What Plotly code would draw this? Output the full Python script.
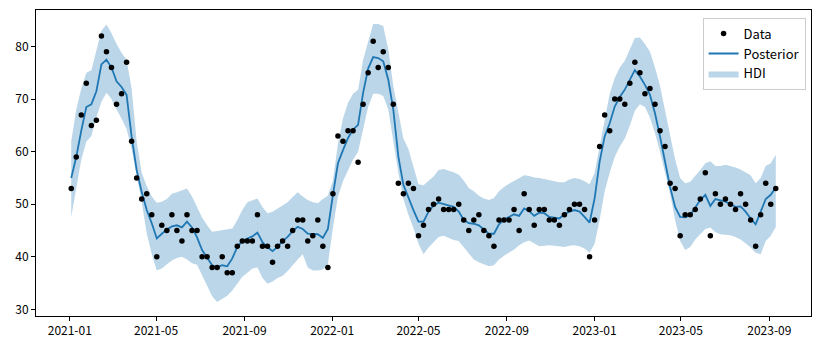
import pandas as pd
import plotly.graph_objects as go

dates = pd.date_range("2021-01-03", periods=141, freq="W")

observed = [53, 59, 67, 73, 65, 66, 82, 79, 76, 69, 71, 77, 62, 55, 51, 52, 48, 40, 46, 45,
            48, 45, 43, 48, 45, 45, 40, 40, 38, 38, 40, 37, 37, 42, 43, 43, 43, 48, 42, 42,
            39, 42, 43, 42, 45, 47, 47, 43, 44, 47, 42, 38, 52, 63, 62, 64, 64, 58, 69, 75,
            81, 76, 79, 76, 69, 54, 52, 54, 53, 44, 46, 49, 50, 51, 49, 49, 49, 50, 47, 45,
            47, 48, 45, 44, 42, 47, 47, 47, 49, 45, 52, 49, 46, 49, 49, 47, 47, 46, 48, 49,
            50, 50, 49, 40, 47, 61, 67, 64, 70, 70, 69, 73, 77, 75, 71, 72, 69, 64, 61, 54,
            53, 44, 48, 48, 49, 51, 56, 44, 52, 50, 51, 50, 49, 52, 50, 47, 42, 48, 54, 50,
            53]

posterior = [55, 59, 64, 68.5, 69, 71.5, 76.6, 77.5, 76, 73.4, 72.3, 70.8, 62.9, 56.5, 52.4, 48.9, 46.4, 43.5, 44.4, 45.2,
             45.8, 46, 45.6, 46.7, 45.6, 43.7, 41.3, 39.9, 38.4, 38, 38.4, 38.2, 39.7, 41.9, 43, 43.5, 43.9, 44.6, 42.8, 41.8,
             41.1, 41.9, 43, 43.8, 44.9, 45.7, 45.3, 44.4, 44.3, 44.3, 43.6, 45.3, 51.8, 57.8, 60.3, 62.6, 64.2, 65.1, 71.2, 75.8,
             78, 77.8, 77.2, 73.7, 68, 59.1, 53.7, 51.1, 48.9, 46.7, 46.7, 48.6, 49.8, 50.3, 50, 49.8, 49.5, 48.6, 47, 46.4,
             46.3, 46, 45.2, 44.4, 44.4, 46.2, 47.1, 47.6, 48.1, 47.8, 49.2, 48.7, 47.8, 48.4, 48.3, 47.6, 47.5, 47.3, 48.1, 48.6,
             48.9, 48.6, 47.6, 46.5, 51.1, 58.1, 62.9, 65.4, 68.6, 70.4, 71.8, 73.7, 75.5, 74.3, 72.7, 70.8, 67.3, 62.9, 58.4, 53.3,
             49.5, 47.6, 47.5, 47.9, 49.4, 50.8, 51.8, 49.7, 51, 50.8, 50.5, 50, 49.5, 49.6, 48.6, 47.3, 46.2, 48.6, 51, 51.8,
             53.2]

hdi_upper = [62, 68, 72, 75, 75.5, 79, 83, 84.2, 82.5, 80.5, 78.8, 77.5, 72, 62, 56, 53.5, 51.5, 50.3, 50.5, 51,
             52, 52.3, 52.6, 53, 51.5, 49.5, 47.5, 46, 44.8, 44.9, 45.1, 45.2, 45.4, 47, 48.9, 50.4, 50.8, 51.1, 49.5, 48.3,
             48.6, 49.2, 49.7, 50.4, 51.4, 52.3, 51.5, 50.8, 50.4, 50.2, 51, 51.6, 54.5, 61.5, 66.3, 69.3, 71, 71.8, 77.5, 81,
             84.3, 84.3, 83.9, 79.5, 72.5, 67.5, 62.5, 60.5, 57.3, 53.8, 53.6, 54.5, 55.3, 56.5, 56.7, 56.4, 56.1, 55.6, 54.5, 53.1,
             52.5, 51.6, 51.1, 50.8, 51.2, 52.5, 53.3, 53.9, 54.4, 55, 55.5, 55.4, 55.1, 55, 54.8, 54.6, 54.4, 54.2, 54.2, 54.7,
             55, 54.8, 54.4, 53.8, 56, 61, 66.5, 71, 74, 76, 77.3, 79.5, 81.6, 81.7, 80.5, 79, 76, 72.5, 68, 63.5,
             58.5, 55, 54, 54.3, 55.3, 56.5, 57.8, 58.2, 57.3, 57.3, 57.5, 57.3, 57, 56.6, 56, 55.5, 54, 55, 57.3, 57.8,
             59.4]

hdi_lower = [47.6, 53.3, 58.5, 61.9, 63, 66.5, 69.5, 71.2, 70, 68, 66.3, 64.3, 60.5, 55.5, 50.5, 44.5, 40.5, 37.4, 37.8, 38.6,
             39.3, 39.8, 40, 39.5, 38.8, 38.5, 36.5, 34.5, 32.5, 31.4, 32, 32.6, 33.6, 35, 36.2, 37, 37.8, 38, 36, 34.9,
             35.3, 36, 36.4, 37.3, 38.5, 39.5, 40.5, 38, 37.4, 37.4, 37.6, 38.6, 45.5, 51.5, 54.4, 56.5, 58.5, 60, 64, 68.5,
             71, 71, 70.6, 68, 62, 56, 51, 48, 45.5, 42.5, 40.5, 41.8, 42.8, 43.8, 44, 43.6, 43.2, 43, 41.8, 40.5,
             39.5, 39, 38.6, 38.2, 38.4, 39.5, 40.2, 40.8, 41.4, 42.2, 42.8, 43.1, 42.6, 42, 42.1, 42.2, 42.1, 42, 41.9, 42.1,
             42.2, 42, 41.6, 40.8, 42.5, 47, 52.5, 56, 59, 61, 62.5, 65, 67.8, 69, 68.5, 66.5, 63.5, 60, 56, 52,
             47, 43, 41.3, 41.9, 43.3, 44.4, 45.3, 45.6, 44.7, 44.3, 44.2, 44.1, 43.8, 43.3, 42.6, 41.8, 40.8, 40.5, 43, 44,
             45.7]

tick_dates = ["2021-01-01", "2021-05-01", "2021-09-01", "2022-01-01", "2022-05-01",
              "2022-09-01", "2023-01-01", "2023-05-01", "2023-09-01"]
tick_labels = ["2021-01", "2021-05", "2021-09", "2022-01", "2022-05",
               "2022-09", "2023-01", "2023-05", "2023-09"]
y_ticks = [30, 40, 50, 60, 70, 80]

blue = "#1f77b4"
fig = go.Figure()

fig.add_trace(go.Scatter(x=dates, y=hdi_lower, mode="lines", line=dict(width=0),
                         showlegend=False, hoverinfo="skip"))
fig.add_trace(go.Scatter(x=dates, y=hdi_upper, mode="lines", line=dict(width=0),
                         fill="tonexty", fillcolor="rgba(31,119,180,0.3)",
                         name="HDI", legendrank=3))
fig.add_trace(go.Scatter(x=dates, y=posterior, mode="lines", line=dict(color=blue, width=1.8),
                         name="Posterior", legendrank=2))
fig.add_trace(go.Scatter(x=dates, y=observed, mode="markers",
                         marker=dict(color="black", size=5.5, line=dict(width=0)),
                         name="Data", legendrank=1))

span = dates[-1] - dates[0]
x_range = [dates[0] - 0.05 * span, dates[-1] + 0.05 * span]
ymin = min(min(hdi_lower), min(observed))
ymax = max(max(hdi_upper), max(observed))
pad = 0.05 * (ymax - ymin)

fig.update_layout(
    width=820, height=351,
    margin=dict(l=36, r=9, t=10, b=35),
    paper_bgcolor="white", plot_bgcolor="white",
    font=dict(family="Noto Sans CJK JP", size=12, color="black"),
    showlegend=True,
    legend=dict(x=0.993, y=0.975, xanchor="right", yanchor="top",
                traceorder="normal",
                bgcolor="rgba(255,255,255,0.8)", bordercolor="#cccccc", borderwidth=1,
                font=dict(size=13), tracegroupgap=0, itemwidth=30),
    xaxis=dict(range=x_range, tickvals=tick_dates, ticktext=tick_labels,
               showgrid=False, zeroline=False, showline=True, linecolor="black",
               linewidth=1, mirror=True, ticks="outside", ticklen=4, tickcolor="black"),
    yaxis=dict(range=[ymin - pad, ymax + pad], tickvals=y_ticks,
               showgrid=False, zeroline=False, showline=True, linecolor="black",
               linewidth=1, mirror=True, ticks="outside", ticklen=4, tickcolor="black"),
)

fig.write_html("out.html")
